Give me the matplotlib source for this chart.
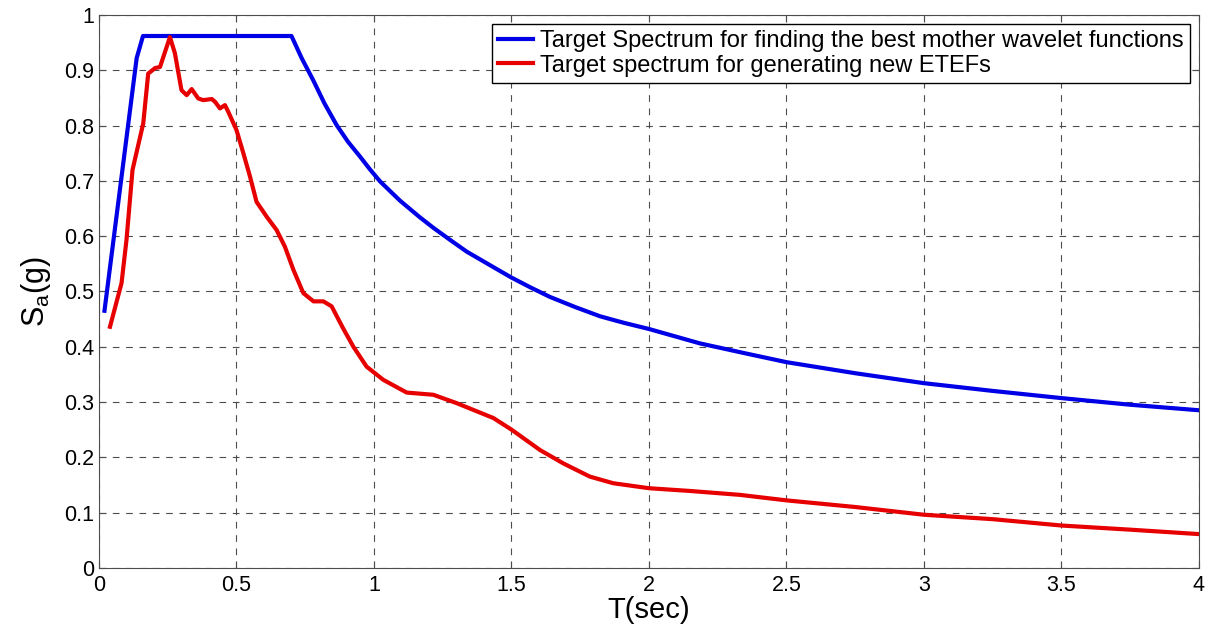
import numpy as np
import matplotlib.pyplot as plt

plt.rcParams['font.family'] = ['Liberation Sans', 'DejaVu Sans']

# blue: target spectrum for finding the best mother wavelet functions
T_blue = [0.02, 0.137, 0.16, 0.70, 0.737, 0.779, 0.82, 0.864, 0.905, 0.949, 0.985,
          1.022, 1.095, 1.167, 1.216, 1.28, 1.337, 1.42, 1.50, 1.57, 1.64, 1.73, 1.822,
          1.91, 2.0, 2.185, 2.35, 2.5, 2.75, 3.0, 3.25, 3.5, 3.75, 4.0]
Sa_blue = [0.465, 0.922, 0.962, 0.962, 0.922, 0.882, 0.840, 0.801, 0.771, 0.744, 0.721,
           0.699, 0.664, 0.634, 0.615, 0.592, 0.572, 0.548, 0.525, 0.507, 0.490, 0.472, 0.455,
           0.443, 0.432, 0.406, 0.388, 0.372, 0.352, 0.334, 0.320, 0.307, 0.295, 0.285]

# red: target spectrum for generating new ETEFs
T_red = [0.04, 0.082, 0.10, 0.122, 0.161, 0.179, 0.204, 0.222, 0.258, 0.276, 0.30,
         0.319, 0.337, 0.361, 0.379, 0.41, 0.422, 0.44, 0.458, 0.47, 0.50, 0.525,
         0.549, 0.573, 0.61, 0.646, 0.676, 0.707, 0.743, 0.78, 0.816, 0.846, 0.888,
         0.925, 0.973, 1.034, 1.119, 1.216, 1.30, 1.434, 1.50, 1.604, 1.688, 1.785,
         1.87, 2.0, 2.15, 2.33, 2.5, 2.75, 3.0, 3.25, 3.5, 3.75, 4.0]
Sa_red = [0.436, 0.515, 0.593, 0.72, 0.804, 0.894, 0.904, 0.906, 0.96, 0.931, 0.864,
          0.855, 0.866, 0.849, 0.846, 0.848, 0.843, 0.831, 0.837, 0.825, 0.792, 0.75,
          0.708, 0.662, 0.635, 0.611, 0.581, 0.539, 0.497, 0.482, 0.482, 0.473, 0.433,
          0.40, 0.364, 0.34, 0.317, 0.313, 0.298, 0.271, 0.25, 0.213, 0.189, 0.165,
          0.153, 0.144, 0.139, 0.132, 0.122, 0.11, 0.096, 0.088, 0.0765, 0.069, 0.061]

labels = ['Target Spectrum for finding the best mother wavelet functions',
          'Target spectrum for generating new ETEFs']

fig = plt.figure(figsize=(12.16, 6.38), dpi=100)
ax = fig.add_axes([0.0814, 0.110, 0.9046, 0.8665])

ax.plot(T_blue, Sa_blue, color='#0000e6', lw=3, label=labels[0], zorder=3)
ax.plot(T_red, Sa_red, color='#e60000', lw=3, label=labels[1], zorder=3)

ax.set_xlim(0, 4)
ax.set_ylim(0, 1)
ax.set_xticks(np.arange(0, 4.01, 0.5))
ax.set_xticklabels(['0', '0.5', '1', '1.5', '2', '2.5', '3', '3.5', '4'])
ax.set_yticks(np.arange(0, 1.01, 0.1))
ax.set_yticklabels(['0', '0.1', '0.2', '0.3', '0.4', '0.5', '0.6', '0.7', '0.8', '0.9', '1'])
ax.tick_params(direction='in', top=True, right=True, labelsize=15.5, length=5, color='0.3')
ax.tick_params(axis='x', pad=5)
ax.grid(True, color='0.3', linestyle=(0, (6, 6)), linewidth=0.8)
for s in ax.spines.values():
    s.set_color('0.3')

ax.set_xlabel('T(sec)', fontsize=21, labelpad=0)
ax.set_ylabel(r'S$_\mathregular{a}$(g)', fontsize=22, labelpad=8)

leg = ax.legend(loc='upper right', fontsize=17, handlelength=1.5, handletextpad=0.3,
                borderpad=0.25, labelspacing=0.1, fancybox=False, framealpha=1,
                borderaxespad=0.4)
leg.get_frame().set_edgecolor('black')
leg.get_frame().set_linewidth(1)

fig.savefig('out.png', dpi=100)
